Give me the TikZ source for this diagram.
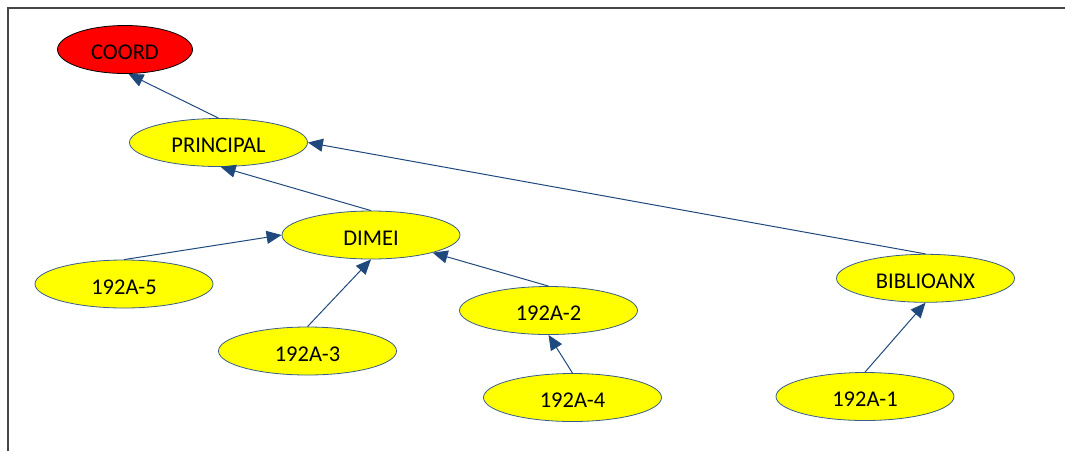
\documentclass[tikz,border=0pt]{standalone}
\usepackage{fontspec}
\setmainfont{Carlito}
\usetikzlibrary{arrows.meta,shapes.geometric}
\definecolor{edgeblue}{RGB}{31,73,125}
\definecolor{rimblue}{RGB}{56,93,138}
\definecolor{nodeyellow}{RGB}{255,255,0}
\definecolor{nodered}{RGB}{255,0,0}
\definecolor{framegray}{RGB}{70,70,70}
\newcommand{\lbl}[1]{\raisebox{-3pt}[\height][0pt]{#1}}
\tikzset{
  oval/.style={ellipse, draw=rimblue, line width=0.8pt, fill=nodeyellow,
    minimum width=178pt, minimum height=48pt, inner sep=0pt,
    font=\fontsize{22.5}{26}\selectfont},
  rootoval/.style={oval, fill=nodered, draw=black, minimum width=135pt},
  link/.style={draw=edgeblue, line width=1pt,
    -{Triangle[length=15pt,width=13pt]}},
}
\begin{document}
\begin{tikzpicture}[x=1pt,y=-1pt]
\useasboundingbox (0,0) rectangle (1065,451);
\draw[framegray, line width=2pt] (7.5,451) -- (7.5,8) -- (1065,8);
\node[rootoval] (coord) at (125,49.5) {\lbl{COORD}};
\node[oval] (principal) at (218.5,142.5) {\lbl{PRINCIPAL}};
\node[oval] (dimei) at (371,235) {\lbl{DIMEI}};
\node[oval] (a5) at (124,284) {\lbl{192A-5}};
\node[oval] (a3) at (307.5,351) {\lbl{192A-3}};
\node[oval] (a2) at (548.5,310.5) {\lbl{192A-2}};
\node[oval] (a4) at (572.5,397.5) {\lbl{192A-4}};
\node[oval] (biblio) at (925.5,278.3) {\lbl{BIBLIOANX}};
\node[oval] (a1) at (865,396.5) {\lbl{192A-1}};
\draw[link] (principal.north) -- (coord.-82);
\draw[link] (dimei.north) -- (principal.-85);
\draw[link] (biblio.north) -- (principal.east);
\draw[link] (a5.north) -- (dimei.west);
\draw[link] (a3.north) -- (dimei.south);
\draw[link] (a2.north) -- (dimei.-16);
\draw[link] (a4.north) -- (a2.south);
\draw[link] (a1.north) -- (biblio.south);
\end{tikzpicture}
\end{document}
